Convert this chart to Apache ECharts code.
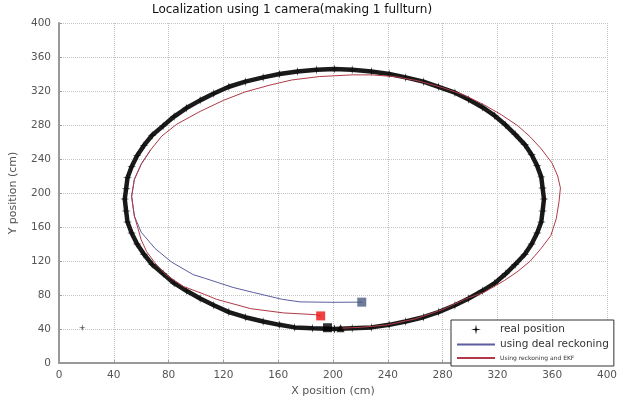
<!DOCTYPE html>
<html>
<head>
<meta charset="utf-8">
<script src="https://cdn.jsdelivr.net/npm/echarts@6/dist/echarts.min.js"></script>
<style>
html,body{margin:0;padding:0;background:#fff;}
#chart{width:624px;height:402px;}
</style>
</head>
<body>
<div id="chart"></div>
<script>
// real position (x, y in cm)
var realX = [201, 214, 228, 241, 253, 266, 277, 289, 299, 309, 318, 326, 333, 340, 345, 349, 352, 353,
             354, 353, 352, 349, 345, 340, 333, 326, 318, 309, 299, 289, 277, 266, 253, 241, 228, 214,
             201, 188, 174, 161, 149, 136, 124, 113, 103, 93, 84, 76, 68, 62, 57, 53, 50, 49,
             48, 49, 50, 53, 57, 62, 68, 76, 84, 93, 103, 113, 124, 136, 149, 161, 172, 185, 201];
var realY = [40, 41, 42, 45, 49, 54, 60, 68, 76, 85, 94, 105, 116, 128, 140, 153, 166, 179,
             193, 206, 219, 232, 245, 257, 269, 280, 291, 301, 310, 318, 325, 331, 336, 340, 343, 345,
             346, 345, 343, 340, 336, 331, 325, 317, 309, 300, 290, 279, 268, 256, 244, 231, 218, 205,
             193, 179, 166, 153, 140, 128, 116, 105, 94, 85, 76, 68, 60, 54, 49, 45, 42, 41, 40];
var loneX = [17];
var loneY = [41.5];

// dead reckoning (blue)
var deadX = [67, 60, 55, 53, 55, 60, 70, 82, 98, 106, 127, 142, 163, 176, 200, 221];
var deadY = [251, 234, 216, 196, 173, 154, 135, 119, 104, 100, 89, 83, 75, 72, 71.5, 71.7];

// reckoning + EKF (red)
var ekfX = [205, 220, 240, 260, 280, 296, 310, 325, 335, 344, 352, 359, 363, 365, 366, 364, 360, 352, 344,
            335, 323, 310, 296, 280, 262, 245, 228, 214, 190, 170, 154, 136, 120, 103, 86, 75, 67, 60, 55,
            53, 55, 57, 60, 64, 70, 78, 91, 106, 115, 140, 164, 187, 191];
var ekfY = [41, 42, 45, 52, 63, 75, 83, 97, 108, 120, 135, 150, 170, 190, 206, 220, 235, 252, 266,
            279, 292, 304, 315, 324, 332, 337, 339, 339, 337, 333, 327, 319, 309, 296, 281, 267, 251, 234, 216,
            196, 173, 162, 145, 131, 118, 104, 90, 81, 75, 64, 59, 57, 55.5];

// start / end markers
var startSq = [196, 41.6];
var startTri = [205.5, 41];
var ekfEnd = [191, 55.5];
var deadEnd = [221, 71.7];

function pairs(xs, ys) {
    var out = [];
    for (var i = 0; i < xs.length; i++) out.push([xs[i], ys[i]]);
    return out;
}

var starPath = 'path://M0,-10L1.6,-1.6L10,0L1.6,1.6L0,10L-1.6,1.6L-10,0L-1.6,-1.6Z';
var fontName = 'DejaVu Sans';

var axisCommon = {
    type: 'value',
    min: 0,
    max: 400,
    interval: 40,
    nameLocation: 'middle',
    nameTextStyle: {fontFamily: fontName, fontSize: 11, color: '#555'},
    axisLine: {show: true, onZero: false, lineStyle: {color: '#999', width: 2}},
    axisTick: {show: true, inside: true, length: 3, lineStyle: {color: '#999'}},
    axisLabel: {fontFamily: fontName, fontSize: 10.5, color: '#555'},
    splitLine: {show: true, lineStyle: {type: 'dotted', color: '#c4c4c4', width: 1}}
};

var option = {
    animation: false,
    backgroundColor: '#fff',
    title: {
        text: 'Localization using 1 camera(making 1 fullturn)',
        left: 287,
        textAlign: 'center',
        top: -1,
        textStyle: {fontFamily: fontName, fontSize: 12, fontWeight: 'normal', color: '#111'}
    },
    grid: {left: 54, right: 17, top: 23, bottom: 32},
    xAxis: Object.assign({}, axisCommon, {
        name: 'X position (cm)',
        nameGap: 18,
        axisLabel: Object.assign({}, axisCommon.axisLabel, {margin: 7})
    }),
    yAxis: Object.assign({}, axisCommon, {
        name: 'Y position (cm)',
        nameGap: 40,
        axisLabel: Object.assign({}, axisCommon.axisLabel, {margin: 8})
    }),
    legend: {
        orient: 'vertical',
        left: 451,
        top: 320,
        width: 156,
        height: 50,
        padding: [4, 5, 4, 5],
        itemGap: 4,
        itemWidth: 38,
        itemHeight: 10,
        backgroundColor: '#fff',
        borderColor: '#333',
        borderWidth: 1,
        borderRadius: 0,
        textStyle: {fontFamily: fontName, fontSize: 10.5, color: '#333'},
        data: [
            {name: 'real position', icon: starPath},
            {name: 'using deal reckoning', itemStyle: {opacity: 0}},
            {name: 'Using reckoning and EKF', itemStyle: {opacity: 0}, textStyle: {fontSize: 6}}
        ]
    },
    series: [
        {
            name: 'using deal reckoning',
            type: 'line',
            data: pairs(deadX, deadY),
            symbol: 'none',
            color: '#5c5ea0',
            lineStyle: {color: '#5c5ea0', width: 1},
            z: 2
        },
        {
            name: 'real position',
            type: 'line',
            data: pairs(realX, realY),
            symbol: starPath,
            symbolSize: 9,
            color: '#111',
            itemStyle: {color: '#111'},
            lineStyle: {color: '#1a1a1a', width: 4.5},
            z: 3
        },
        {
            name: 'real position',
            type: 'scatter',
            data: pairs(loneX, loneY),
            symbol: starPath,
            symbolSize: 7,
            itemStyle: {color: '#222'},
            z: 3
        },
        {
            name: 'Using reckoning and EKF',
            type: 'line',
            data: pairs(ekfX, ekfY),
            symbol: 'none',
            color: '#b03a48',
            lineStyle: {color: '#b03a48', width: 1},
            z: 4
        },
        {
            type: 'scatter',
            data: [startSq],
            symbol: 'rect',
            symbolSize: 9,
            itemStyle: {color: '#000'},
            z: 5
        },
        {
            type: 'scatter',
            data: [startTri],
            symbol: 'triangle',
            symbolSize: 8,
            itemStyle: {color: '#000'},
            z: 5
        },
        {
            type: 'scatter',
            data: [ekfEnd],
            symbol: 'rect',
            symbolSize: 9,
            itemStyle: {color: '#ee1111'},
            z: 5
        },
        {
            type: 'scatter',
            data: [deadEnd],
            symbol: 'rect',
            symbolSize: 9,
            itemStyle: {color: '#4a5a80'},
            z: 5
        }
    ]
};

var myEcharts = echarts.init(document.getElementById('chart'));
myEcharts.setOption(option);
</script>
</body>
</html>
